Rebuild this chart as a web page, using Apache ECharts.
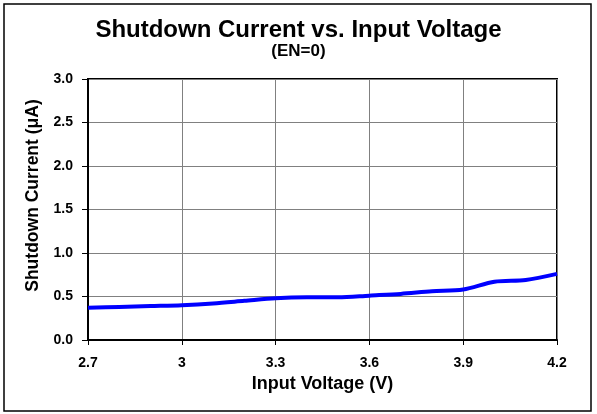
<!DOCTYPE html>
<html>
<head>
<meta charset="utf-8">
<script src="https://cdn.jsdelivr.net/npm/echarts@6/dist/echarts.min.js"></script>
<style>
  html, body { margin: 0; padding: 0; background: #fff; }
  #chart { width: 597px; height: 414px; }
</style>
</head>
<body>
<div id="chart"></div>
<script>
// input voltage (V) and shutdown current (uA)
const voltage = [2.7, 2.8, 2.9, 3.0, 3.1, 3.2, 3.3, 3.4, 3.5, 3.6, 3.7, 3.8, 3.9, 4.0, 4.1, 4.2];
const current = [0.37, 0.38, 0.39, 0.40, 0.42, 0.45, 0.48, 0.49, 0.49, 0.51, 0.53, 0.56, 0.58, 0.67, 0.69, 0.76];

const font = 'Liberation Sans, Arial, sans-serif';

const chart = echarts.init(document.getElementById('chart'));
chart.setOption({
    animation: false,
    title: {
        text: 'Shutdown Current vs. Input Voltage',
        subtext: '(EN=0)',
        left: 'center',
        top: 13,
        itemGap: 1,
        textStyle: { fontFamily: font, fontSize: 24, fontWeight: 'bold', color: '#000' },
        subtextStyle: { fontFamily: font, fontSize: 17, fontWeight: 'bold', color: '#000' }
    },
    graphic: [{
        type: 'rect',
        shape: { x: 4, y: 4, width: 587, height: 407 },
        style: { fill: 'none', stroke: '#000', lineWidth: 1.5 },
        silent: true
    }],
    grid: {
        left: 88, top: 79, right: 40, bottom: 74,
        show: true, borderColor: '#000', borderWidth: 2
    },
    xAxis: {
        type: 'value',
        min: 2.7, max: 4.2, interval: 0.3,
        name: 'Input Voltage (V)',
        nameLocation: 'middle',
        nameGap: 35,
        nameTextStyle: { fontFamily: font, fontSize: 18, fontWeight: 'bold', color: '#000' },
        axisLine: { lineStyle: { color: '#000', width: 2 } },
        axisTick: { show: true, length: 5, lineStyle: { color: '#000' } },
        axisLabel: {
            margin: 16,
            fontFamily: font, fontSize: 14, fontWeight: 'bold', color: '#000',
            formatter: v => String(+v.toFixed(1))
        },
        splitLine: { show: true, lineStyle: { color: '#808080', width: 1 } }
    },
    yAxis: {
        type: 'value',
        min: 0, max: 3, interval: 0.5,
        name: 'Shutdown Current (\u03bcA)',
        nameLocation: 'middle',
        nameGap: 44,
        nameTextStyle: {
            fontFamily: font, fontSize: 17.5, fontWeight: 'bold', color: '#000',
            padding: [0, 0, 0, 28]
        },
        axisLine: { show: true, lineStyle: { color: '#000', width: 2 } },
        axisTick: { show: true, length: 6, lineStyle: { color: '#000' } },
        axisLabel: {
            margin: 15,
            fontFamily: font, fontSize: 14, fontWeight: 'bold', color: '#000',
            formatter: v => v.toFixed(1)
        },
        splitLine: { show: true, lineStyle: { color: '#808080', width: 1 } }
    },
    series: [{
        type: 'line',
        data: voltage.map((v, i) => [v, current[i]]),
        smooth: 0.3,
        showSymbol: false,
        lineStyle: { color: '#0000ff', width: 4 }
    }]
});
</script>
</body>
</html>
